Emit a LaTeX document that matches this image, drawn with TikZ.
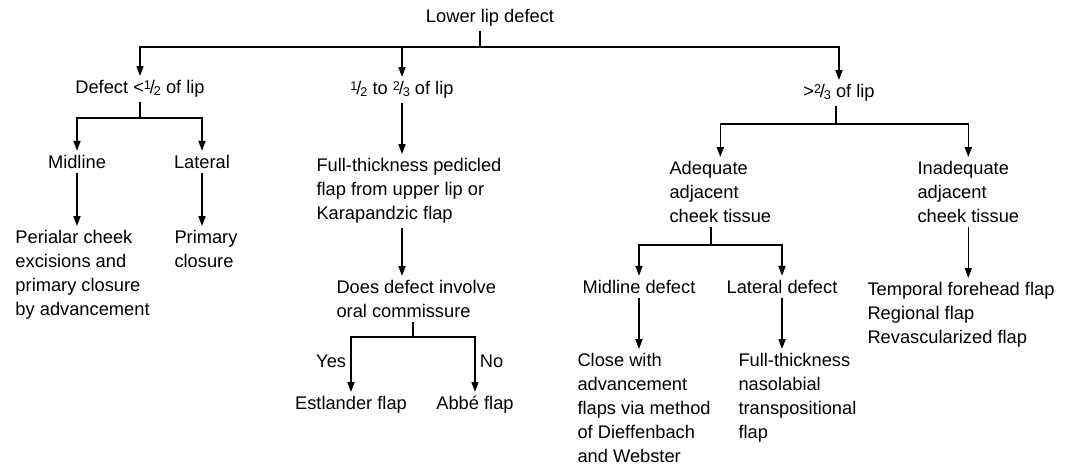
\documentclass[tikz,border=0pt]{standalone}
\usepackage{fontspec}
\setmainfont{Liberation Sans}
\usepackage{tikz}
\usetikzlibrary{arrows.meta, positioning, calc}

\newcommand{\lipfont}{\fontsize{13}{17}\selectfont}
\newcommand{\frc}[2]{\raisebox{0.45ex}{\fontsize{9}{9}\selectfont #1}\kern-0.06em/\kern-0.06em\raisebox{-0.15ex}{\fontsize{9}{9}\selectfont #2}}

\begin{document}
\begin{tikzpicture}[
  x=0.025cm, y=-0.025cm,
  lbl/.style={inner sep=3pt, font=\lipfont},
  blk/.style={lbl, align=left, anchor=north west},
  arrow/.style={-{Triangle[length=7pt,width=5pt]}, line width=1.05pt},
  line/.style={line width=1.05pt}
]
\useasboundingbox (0,0) rectangle (1074,465);

% Root and the three defect sizes
\node[lbl] (root) at (490,18) {Lower lip defect};
\node[lbl] (small) at (140,89) {Defect <\frc12 of lip};
\node[lbl] (mid) at (402,90) {\frc12 to \frc23 of lip};
\node[lbl] (large) at (839,93) {>\frc23 of lip};

% Defect < 1/2
\node[lbl] (midline) at (77,162) {Midline};
\node[lbl] (lateral) at (202,162) {Lateral};
\node[blk] (perialar) at (11,226) {Perialar cheek\\excisions and\\primary closure\\by advancement};
\node[blk] (primary) at (170,226) {Primary\\closure};

% 1/2 to 2/3
\node[blk] (fullthick) at (312,154) {Full-thickness pedicled\\flap from upper lip or\\Karapandzic flap};
\node[blk] (doesdef) at (332,276) {Does defect involve\\oral commissure};
\node[lbl] (estl) at (351,405) {Estlander flap};
\node[lbl] (abbe) at (475,405) {Abbé flap};

% > 2/3
\node[blk] (adequate) at (665,157) {Adequate\\adjacent\\cheek tissue};
\node[blk] (inadequate) at (913,157) {Inadequate\\adjacent\\cheek tissue};
\node[lbl] (midlinedef) at (639,287) {Midline defect};
\node[lbl] (lateraldef) at (782,287) {Lateral defect};
\node[blk] (close) at (573,349) {Close with\\advancement\\flaps via method\\of Dieffenbach\\and Webster};
\node[blk] (fullnaso) at (734,349) {Full-thickness\\nasolabial\\transpositional\\flap};
\node[blk] (temporal) at (863,278) {Temporal forehead flap\\Regional flap\\Revascularized flap};

% Junctions
\coordinate (j0) at (480,47);
\coordinate (j1) at (140,118);
\coordinate (j2) at (413,337);
\coordinate (j3) at (836,124);
\coordinate (j4) at (711,245);

% Arrows
\draw[line] (root.south -| j0) -- (j0);
\draw[arrow] (j0) -| (small);
\draw[arrow] (j0) -| (mid);
\draw[arrow] (j0) -| (large);

\draw[line] (small.south -| j1) -- (j1);
\draw[arrow] (j1) -| (midline);
\draw[arrow] (j1) -| (lateral);
\draw[arrow] (midline) -- (midline |- perialar.north);
\draw[arrow] (lateral) -- (lateral |- primary.north);

\draw[arrow] (mid) -- (mid |- fullthick.north);
\draw[arrow] (fullthick.south -| mid) -- (mid |- doesdef.north);
\draw[line] (doesdef.south -| j2) -- (j2);
\draw[arrow] (j2) -| node[lbl, pos=0.72, left] {Yes} (estl);
\draw[arrow] (j2) -| node[lbl, pos=0.72, right] {No} (abbe);

\draw[line] (large.south -| j3) -- (j3);
\draw[arrow] (j3) -| (adequate);
\draw[arrow] (j3) -| (inadequate);
\draw[line] (adequate.south -| j4) -- (j4);
\draw[arrow] (j4) -| (midlinedef);
\draw[arrow] (j4) -| (lateraldef);
\draw[arrow] (midlinedef) -- (midlinedef |- close.north);
\draw[arrow] (lateraldef) -- (lateraldef |- fullnaso.north);
\draw[arrow] (inadequate) -- (inadequate |- temporal.north);

\end{tikzpicture}
\end{document}
